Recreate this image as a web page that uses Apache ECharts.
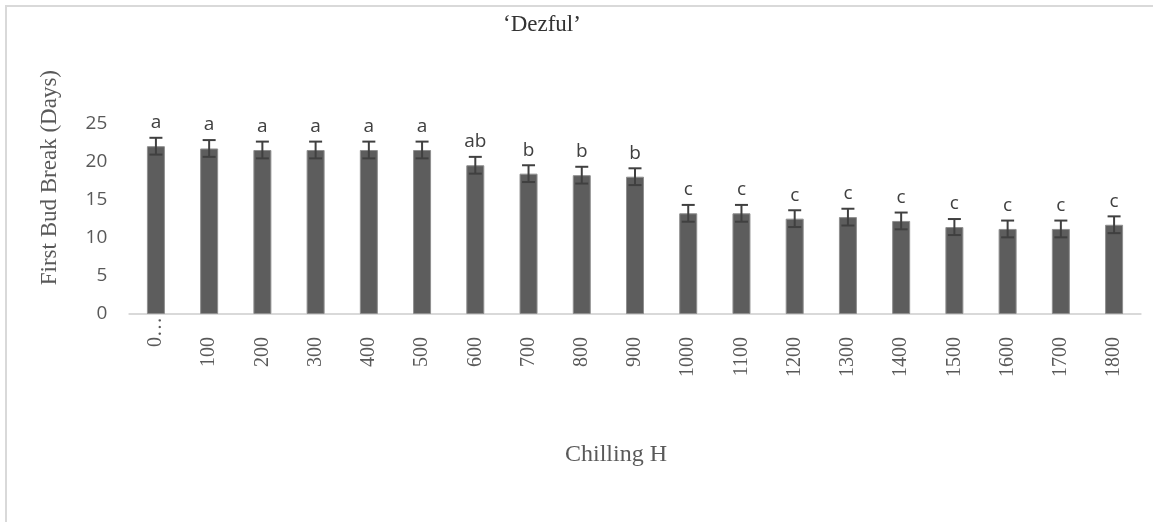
<!DOCTYPE html>
<html>
<head>
<meta charset="utf-8">
<script src="https://cdn.jsdelivr.net/npm/echarts@6/dist/echarts.min.js"></script>
<style>
  html, body { margin: 0; padding: 0; background: #fff; }
  #chart { width: 1153px; height: 522px; }
</style>
</head>
<body>
<div id="chart"></div>
<script>
// chilling hours (x axis)
var hours = ["0…", "100", "200", "300", "400", "500", "600", "700", "800", "900",
  "1000", "1100", "1200", "1300", "1400", "1500", "1600", "1700", "1800"];
// days to first bud break
var days = [22.0, 21.7, 21.5, 21.5, 21.5, 21.5, 19.5, 18.4, 18.2, 18.0,
  13.2, 13.2, 12.5, 12.7, 12.2, 11.4, 11.15, 11.15, 11.7];
// error bar half-length
var errors = [1.1, 1.1, 1.1, 1.1, 1.1, 1.1, 1.1, 1.1, 1.1, 1.1,
  1.1, 1.1, 1.1, 1.1, 1.1, 1.05, 1.1, 1.1, 1.1];
// significance letters
var letters = ["a", "a", "a", "a", "a", "a", "ab", "b", "b", "b",
  "c", "c", "c", "c", "c", "c", "c", "c", "c"];

var chart = echarts.init(document.getElementById("chart"));

var option = {
  animation: false,
  backgroundColor: "#fff",
  title: {
    text: "\u2018Dezful\u2019",
    left: 503,
    top: 13,
    padding: 0,
    textStyle: {
      fontFamily: "Liberation Serif",
      fontSize: 23,
      fontWeight: "normal",
      color: "#333333",
    },
  },
  // outer frame of the chart area
  graphic: [
    {
      type: "rect",
      shape: { x: 6, y: 6, width: 1300, height: 700 },
      style: { fill: "none", stroke: "#d9d9d9", lineWidth: 2 },
      silent: true,
    },
  ],
  grid: {
    left: 129.3,
    right: 12.3,
    top: 123.3,
    bottom: 208,
  },
  xAxis: {
    type: "category",
    data: hours,
    axisTick: { show: false },
    axisLine: { lineStyle: { color: "#d9d9d9", width: 2 } },
    axisLabel: {
      interval: 0,
      rotate: 90,
      margin: 3,
      formatter: function (v, i) {
        return i === 0 ? "{f|" + v + "}" : "{n|" + v + "}";
      },
      rich: {
        f: { fontFamily: "Liberation Serif", fontSize: 20, color: "#595959" },
        n: {
          fontFamily: "Liberation Serif",
          fontSize: 20,
          color: "#595959",
          padding: [0, 20, 0, 0],
        },
      },
    },
    name: "Chilling H",
    nameLocation: "middle",
    nameGap: 129,
    nameTextStyle: {
      fontFamily: "Liberation Serif",
      fontSize: 24,
      color: "#595959",
      padding: [0, 38, 0, 0],
    },
  },
  yAxis: {
    type: "value",
    min: 0,
    max: 25,
    interval: 5,
    axisLine: { show: false },
    axisTick: { show: false },
    splitLine: { show: false },
    axisLabel: {
      margin: 22,
      fontFamily: "Open Sans",
      fontSize: 19,
      color: "#595959",
    },
    name: "First Bud Break (Days)",
    nameLocation: "middle",
    nameGap: 68,
    nameTextStyle: {
      fontFamily: "Liberation Serif",
      fontSize: 23,
      color: "#595959",
      padding: [0, 0, 0, 82],
    },
  },
  series: [
    {
      type: "bar",
      data: days,
      barWidth: 18,
      itemStyle: {
        color: "#5d5d5d",
        borderColor: "#8f8f8f",
        borderWidth: 1,
      },
    },
    {
      // error bars + letters
      type: "custom",
      data: days.map(function (v, i) {
        return [i, v, errors[i]];
      }),
      z: 5,
      renderItem: function (params, api) {
        var i = api.value(0);
        var v = api.value(1);
        var e = api.value(2);
        var hi = api.coord([i, v + e]);
        var lo = api.coord([i, v - e]);
        var half = 6.5;
        var lineStyle = { stroke: "#404040", lineWidth: 2 };
        return {
          type: "group",
          children: [
            { type: "line", shape: { x1: hi[0], y1: hi[1], x2: lo[0], y2: lo[1] }, style: lineStyle },
            { type: "line", shape: { x1: hi[0] - half, y1: hi[1], x2: hi[0] + half, y2: hi[1] }, style: lineStyle },
            { type: "line", shape: { x1: lo[0] - half, y1: lo[1], x2: lo[0] + half, y2: lo[1] }, style: lineStyle },
            {
              type: "text",
              x: hi[0],
              y: hi[1] - 15,
              style: {
                text: letters[params.dataIndex],
                font: '19px "Open Sans"',
                fill: "#404040",
                align: "center",
                verticalAlign: "middle",
              },
            },
          ],
        };
      },
    },
  ],
};

chart.setOption(option);
</script>
</body>
</html>
